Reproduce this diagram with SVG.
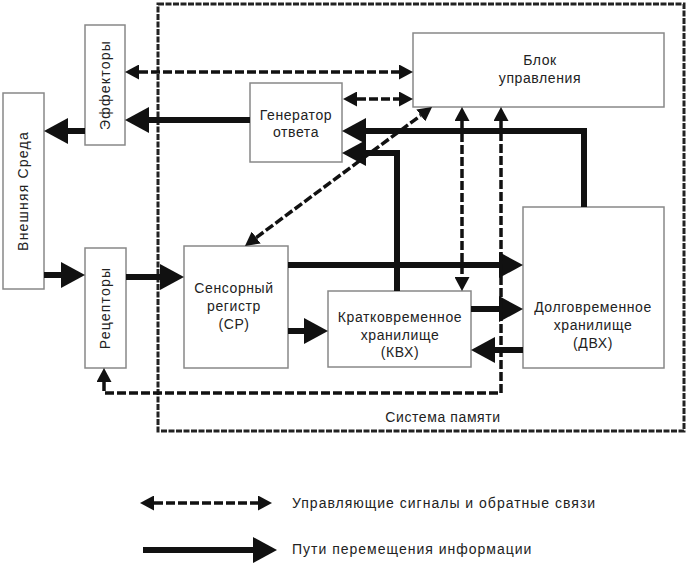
<svg xmlns="http://www.w3.org/2000/svg" width="690" height="565" viewBox="0 0 690 565">
<style>
  .box{fill:#fff;stroke:#888;stroke-width:1.5}
  .t{font-family:"Liberation Sans",Arial,sans-serif;font-size:14px;fill:#222;text-anchor:middle;letter-spacing:0.6px}
  .vt{font-family:"Liberation Sans",Arial,sans-serif;font-size:14px;fill:#222;text-anchor:middle;letter-spacing:1.2px}
  .lt{font-family:"Liberation Sans",Arial,sans-serif;font-size:14px;fill:#222;letter-spacing:1px}
  .solid{fill:none;stroke:#111;stroke-width:6;stroke-linejoin:miter}
  .dash{fill:none;stroke:#111;stroke-width:3.5;stroke-dasharray:9 3}
</style>
<defs>
  <marker id="ah" markerUnits="userSpaceOnUse" viewBox="0 0 24 26" markerWidth="24" markerHeight="26" refX="0" refY="13" orient="auto-start-reverse">
    <path d="M0,0 L24,13 L0,26 Z" fill="#111"/>
  </marker>
  <marker id="dh" markerUnits="userSpaceOnUse" viewBox="0 0 14 15" markerWidth="14" markerHeight="15" refX="0" refY="7.5" orient="auto-start-reverse">
    <path d="M0,0 L14,7.5 L0,15 Z" fill="#111"/>
  </marker>
</defs>

<g id="memory-system">
  <rect x="158" y="4" width="526" height="427" fill="none" stroke="#222" stroke-width="3" stroke-dasharray="6 1.5"/>
  <text class="t" x="443" y="422">Система памяти</text>
</g>

<g id="external-env">
  <rect class="box" x="3" y="93" width="41" height="196"/>
  <text class="vt" transform="translate(23,191) rotate(-90)" dominant-baseline="central">Внешняя Среда</text>
</g>
<g id="effectors">
  <rect class="box" x="85" y="25" width="40" height="120"/>
  <text class="vt" transform="translate(105,85) rotate(-90)" dominant-baseline="central">Эффекторы</text>
</g>
<g id="receptors">
  <rect class="box" x="85" y="248" width="41" height="120"/>
  <text class="vt" transform="translate(105,308) rotate(-90)" dominant-baseline="central">Рецепторы</text>
</g>
<g id="generator">
  <rect class="box" x="250" y="83" width="92" height="79"/>
  <text class="t" x="296" y="120">Генератор</text>
  <text class="t" x="296" y="137">ответа</text>
</g>
<g id="control-block">
  <rect class="box" x="413" y="33" width="251" height="74"/>
  <text class="t" x="540" y="65">Блок</text>
  <text class="t" x="540" y="83">управления</text>
</g>
<g id="sensory-register">
  <rect class="box" x="184" y="246" width="104" height="122"/>
  <text class="t" x="234" y="293">Сенсорный</text>
  <text class="t" x="234" y="311">регистр</text>
  <text class="t" x="234" y="329">(СР)</text>
</g>
<g id="stm">
  <rect class="box" x="328" y="291" width="143" height="76"/>
  <text class="t" x="400" y="322">Кратковременное</text>
  <text class="t" x="400" y="340">хранилище</text>
  <text class="t" x="400" y="357">(КВХ)</text>
</g>
<g id="ltm">
  <rect class="box" x="523" y="207" width="141" height="161"/>
  <text class="t" x="593" y="312">Долговременное</text>
  <text class="t" x="593" y="330">хранилище</text>
  <text class="t" x="593" y="348">(ДВХ)</text>
</g>

<g id="connectors">
  <path class="solid" d="M250,120 H149" marker-end="url(#ah)"/>
  <path class="solid" d="M85,131 H68" marker-end="url(#ah)"/>
  <path class="solid" d="M584,207 V131 H366" marker-end="url(#ah)"/>
  <path class="solid" d="M397,291 V153 H366" marker-end="url(#ah)"/>
  <path class="solid" d="M44,275 H61" marker-end="url(#ah)"/>
  <path class="solid" d="M126,277 H160" marker-end="url(#ah)"/>
  <path class="solid" d="M288,265 H499" marker-end="url(#ah)"/>
  <path class="solid" d="M288,331 H304" marker-end="url(#ah)"/>
  <path class="solid" d="M471,309 H499" marker-end="url(#ah)"/>
  <path class="solid" d="M523,350 H495" marker-end="url(#ah)"/>

  <path class="dash" d="M139,72 H399" marker-start="url(#dh)" marker-end="url(#dh)"/>
  <path class="dash" d="M357,99 H399" marker-start="url(#dh)" marker-end="url(#dh)"/>
  <path class="dash" d="M256.2,237.6 L420.8,115.4" marker-start="url(#dh)" marker-end="url(#dh)"/>
  <path class="dash" d="M462,121 V277" marker-start="url(#dh)" marker-end="url(#dh)"/>
  <path class="dash" d="M104,382 V393 H501 V121" marker-start="url(#dh)" marker-end="url(#dh)"/>
</g>

<g id="legend">
  <path class="dash" d="M154,503 H258" marker-start="url(#dh)" marker-end="url(#dh)"/>
  <text class="lt" x="292" y="508">Управляющие сигналы и обратные связи</text>
  <path class="solid" d="M143,550 H253" marker-end="url(#ah)"/>
  <text class="lt" x="292" y="554">Пути перемещения информации</text>
</g>
</svg>
